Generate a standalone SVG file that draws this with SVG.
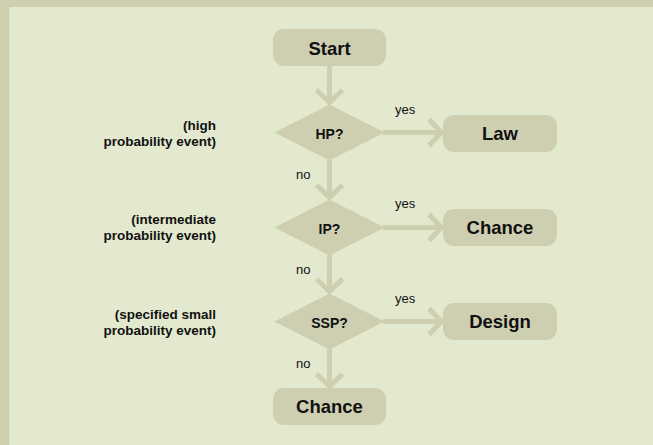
<svg xmlns="http://www.w3.org/2000/svg" width="653" height="445" viewBox="0 0 653 445">
<style>
.box{fill:#cecfb1}
.nl{font-family:"Liberation Sans",Arial,sans-serif;font-weight:bold;font-size:18.5px;fill:#111;text-anchor:middle}
.dl{font-family:"Liberation Sans",Arial,sans-serif;font-weight:bold;font-size:14px;fill:#111;text-anchor:middle}
.side{font-family:"Liberation Sans",Arial,sans-serif;font-weight:bold;font-size:13.5px;fill:#111;text-anchor:end}
.el{font-family:"Liberation Sans",Arial,sans-serif;font-size:13px;fill:#111}
.ln{fill:none;stroke:#cecfb1;stroke-width:5}
</style>
<defs>
<marker id="chev" viewBox="-18 -16 20 32" refX="0" refY="0" markerWidth="20" markerHeight="32" orient="auto" markerUnits="userSpaceOnUse" overflow="visible">
<path d="M-14,-13 L-1.5,0 L-14,13" fill="none" stroke="#cecfb1" stroke-width="5"/>
</marker>
</defs>
<rect x="0" y="0" width="653" height="445" fill="#cecfb1"/>
<rect x="9.5" y="7" width="643.5" height="438" fill="#e3e9ce"/>
<g id="connectors">
<path class="ln" d="M329.5,66 V104" marker-end="url(#chev)"/>
<path class="ln" d="M329.5,160 V199" marker-end="url(#chev)"/>
<path class="ln" d="M329.5,255 V293" marker-end="url(#chev)"/>
<path class="ln" d="M329.5,349 V388" marker-end="url(#chev)"/>
<path class="ln" d="M383,132.5 H443" marker-end="url(#chev)"/>
<path class="ln" d="M383,227.5 H443" marker-end="url(#chev)"/>
<path class="ln" d="M383,321.5 H443" marker-end="url(#chev)"/>
<text class="el" x="395" y="113.5">yes</text>
<text class="el" x="395" y="208">yes</text>
<text class="el" x="395" y="302.5">yes</text>
<text class="el" x="296" y="179">no</text>
<text class="el" x="296" y="273.5">no</text>
<text class="el" x="296" y="368">no</text>
</g>
<g id="start">
<rect class="box" x="273" y="29" width="113" height="37" rx="11"/>
<text class="nl" x="329.5" y="54.5">Start</text>
</g>
<g id="hp">
<polygon class="box" points="329.5,104.5 384.5,132.5 329.5,160.5 274.5,132.5"/>
<text class="dl" x="329.5" y="139">HP?</text>
</g>
<g id="ip">
<polygon class="box" points="329.5,199.5 384.5,227.5 329.5,255.5 274.5,227.5"/>
<text class="dl" x="329.5" y="233.5">IP?</text>
</g>
<g id="ssp">
<polygon class="box" points="329.5,293.5 384.5,321.5 329.5,349.5 274.5,321.5"/>
<text class="dl" x="329.5" y="327.5">SSP?</text>
</g>
<g id="law">
<rect class="box" x="443" y="115" width="114" height="37" rx="11"/>
<text class="nl" x="500" y="140">Law</text>
</g>
<g id="chance1">
<rect class="box" x="443" y="209" width="114" height="37" rx="11"/>
<text class="nl" x="500" y="234">Chance</text>
</g>
<g id="design">
<rect class="box" x="443" y="303" width="114" height="37" rx="11"/>
<text class="nl" x="500" y="328">Design</text>
</g>
<g id="chance2">
<rect class="box" x="273" y="388" width="113" height="37" rx="11"/>
<text class="nl" x="329.5" y="413">Chance</text>
</g>
<g id="labels">
<text class="side" x="216" y="130">(high</text>
<text class="side" x="216" y="146">probability event)</text>
<text class="side" x="216" y="224">(intermediate</text>
<text class="side" x="216" y="240">probability event)</text>
<text class="side" x="216" y="318.5">(specified small</text>
<text class="side" x="216" y="334.5">probability event)</text>
</g>
</svg>
